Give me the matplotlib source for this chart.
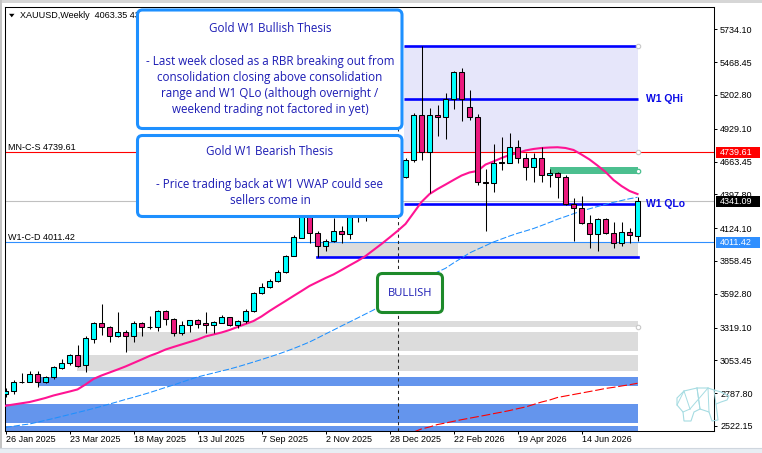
import numpy as np
import matplotlib
matplotlib.use("Agg")
from matplotlib import pyplot as plt
from matplotlib.patches import Rectangle, FancyBboxPatch, Polygon
from matplotlib.lines import Line2D
from matplotlib.transforms import Affine2D, blended_transform_factory

W, H = 762, 453

# weekly XAUUSD candles
opens = [2779, 2805, 2876, 2881, 2941, 2876, 2919, 2994, 3030, 3094,
         3013, 3229, 3356, 3321, 3248, 3283, 3248, 3356, 3321, 3321,
         3453, 3386, 3273, 3340, 3378, 3356, 3337, 3359, 3402, 3337,
         3370, 3456, 3596, 3645, 3694, 3771, 3901, 4047, 4271, 4082,
         3982, 4018, 4101, 4079, 4217, 4250, 4285, 4320, 4360, 4400,
         4541, 4676, 5040, 4743, 5040, 5022, 5167, 5388, 5103, 5022,
         4500, 4487, 4649, 4654, 4779, 4690, 4617, 4690, 4552, 4568,
         4536, 4320, 4285, 4163, 4074, 4196, 4082, 4001, 4090, 4063.35]
highs = [2830, 2894, 2949, 2967, 2967, 2927, 3008, 3065, 3105, 3178,
         3251, 3364, 3510, 3334, 3448, 3299, 3372, 3364, 3413, 3461,
         3461, 3394, 3372, 3378, 3386, 3448, 3372, 3421, 3405, 3378,
         3467, 3607, 3677, 3710, 3785, 3907, 4069, 4311, 4311, 4101,
         4036, 4206, 4141, 4230, 4260, 4290, 4330, 4380, 4420, 4560,
         4692, 5054, 5599, 5094, 5121, 5216, 5396, 5418, 5243, 5048,
         4601, 4805, 4864, 4892, 4838, 4730, 4730, 4779, 4601, 4581,
         4554, 4366, 4387, 4231, 4204, 4204, 4174, 4171, 4123, 4373.80]
lows = [2757, 2779, 2874, 2878, 2840, 2868, 2900, 2986, 3016, 3002,
        2962, 3197, 3261, 3205, 3246, 3124, 3205, 3248, 3305, 3294,
        3342, 3253, 3261, 3286, 3313, 3273, 3273, 3354, 3334, 3313,
        3358, 3443, 3591, 3637, 3688, 3763, 3899, 4044, 4006, 3893,
        3939, 4012, 4001, 4036, 4174, 4182, 4260, 4300, 4340, 4380,
        4530, 4657, 4676, 4406, 4873, 4843, 5089, 4994, 5000, 4473,
        4103, 4419, 4595, 4649, 4654, 4514, 4500, 4500, 4455, 4366,
        4311, 4022, 4158, 3961, 3941, 4077, 3961, 3979, 4001, 4022.40]
closes = [2805, 2876, 2882, 2941, 2876, 2919, 2997, 3030, 3094, 3010,
          3232, 3356, 3321, 3248, 3283, 3248, 3356, 3321, 3324, 3453,
          3386, 3273, 3340, 3378, 3346, 3337, 3362, 3402, 3337, 3370,
          3456, 3596, 3645, 3694, 3771, 3901, 4052, 4271, 4082, 3982,
          4018, 4101, 4079, 4217, 4250, 4285, 4320, 4360, 4400, 4541,
          4676, 5040, 4743, 5040, 5022, 5167, 5388, 5167, 5022, 4500,
          4487, 4649, 4656, 4779, 4690, 4617, 4690, 4554, 4568, 4536,
          4320, 4285, 4163, 4074, 4196, 4082, 4001, 4090, 4066, 4341.09]

# moving average (pink) and the two VWAP lines
ma_slow = [2686, 2696, 2706, 2716, 2732, 2749, 2769, 2785, 2801, 2818,
           2858, 2903, 2931, 2955, 2979, 3004, 3032, 3060, 3089, 3113,
           3141, 3162, 3182, 3202, 3222, 3247, 3263, 3279, 3299, 3324,
           3348, 3372, 3409, 3453, 3494, 3534, 3575, 3615, 3656, 3688,
           3720, 3749, 3785, 3822, 3858, 3898, 3947, 3996, 4048, 4101,
           4158, 4247, 4336, 4400, 4441, 4477, 4514, 4550, 4575, 4587,
           4639, 4664, 4692, 4716, 4732, 4753, 4765, 4773, 4777, 4779,
           4773, 4757, 4720, 4680, 4631, 4579, 4514, 4465, 4425, 4400]
vwap_w1 = [2511, 2520, 2530, 2538, 2553, 2568, 2583, 2599, 2615, 2631,
           2647, 2664, 2681, 2700, 2718, 2737, 2754, 2773, 2792, 2813,
           2834, 2854, 2876, 2898, 2919, 2935, 2951, 2967, 2983, 3001,
           3020, 3040, 3060, 3081, 3102, 3125, 3149, 3175, 3202, 3234,
           3267, 3299, 3332, 3364, 3396, 3429, 3461, 3502, 3542, 3583,
           3623, 3664, 3702, 3734, 3769, 3799, 3842, 3882, 3923, 3953,
           3982, 4012, 4036, 4060, 4082, 4101, 4121, 4145, 4170, 4196,
           4218, 4241, 4263, 4281, 4299, 4317, 4333, 4348, 4362, 4374]
vwap_mn_start = 51
vwap_mn = [2473, 2498, 2514, 2534, 2546, 2560, 2573, 2585, 2597, 2609,
           2622, 2634, 2647, 2662, 2676, 2696, 2716, 2732, 2753, 2765,
           2777, 2789, 2801, 2813, 2826, 2835, 2846, 2856, 2868]

date_labels = ["26 Jan 2025", "23 Mar 2025", "18 May 2025", "13 Jul 2025",
               "7 Sep 2025", "2 Nov 2025", "28 Dec 2025", "22 Feb 2026",
               "19 Apr 2026", "14 Jun 2026"]
label_every = 8
price_ticks = [5734.10, 5468.45, 5202.80, 4929.10, 4663.45, 4397.80, 4124.10,
               3858.45, 3592.80, 3319.10, 3053.45, 2787.80, 2522.15]

# levels and zones: (start bar, low, high)
level_mn = 4739.61
level_bid = 4341.09
level_w1 = 4011.42
q_top, q_hi, q_lo, q_bottom = 5598.8, 5167.3, 4319.5, 3892.8
q_start, range_start = 49.8, 38.9
vline_bar = 49
gray_zones = [(29.4, 3325.8, 3372.0), (15.15, 3131.7, 3285.5),
              (8.9, 2970.0, 3097.0), (range_start, q_bottom, level_w1)]
blue_zones = [(4.15, 2848.0, 2921.0), (-2, 2548.7, 2700.0), (-2, 2400.0, 2522.0)]
green_zone = (68, 4560.0, 4616.7)

BULL = "#00ffff"
BEAR = "#ec1a7e"
PINK = "#ff1493"
TXT = "#1c1cb4"

plt.rcParams["font.family"] = ["Liberation Sans", "DejaVu Sans"]

fig = plt.figure(figsize=(W / 100, H / 100), dpi=100)
fig.patch.set_facecolor("white")
ax = fig.add_axes([4.7 / W, 1 - 430.5 / H, (714 - 4.7) / W, (430.5 - 7.3) / H])
pix = Affine2D().scale(1 / W, -1 / H).translate(0, 1) + fig.transFigure
ax_w_px = 714 - 4.7
ax_h_px = 430.5 - 7.3

n = len(closes)
x = np.arange(n)
last = n - 1
o, h, l, c = map(np.array, (opens, highs, lows, closes))

# zones behind everything
for start, lo, hi in gray_zones:
    ax.add_patch(Rectangle((start, lo), last - start, hi - lo, fc="#dcdcdc", ec="none", zorder=1))
for start, lo, hi in blue_zones:
    ax.add_patch(Rectangle((start, lo), last - start, hi - lo, fc="#6495ed", ec="none", zorder=1))
ax.add_patch(Rectangle((q_start, level_mn), last - q_start, q_top - level_mn,
                       fc="#e6e6fa", ec="none", zorder=1))
ax.add_patch(Rectangle((green_zone[0], green_zone[1]), last - green_zone[0],
                       green_zone[2] - green_zone[1], fc="#4cbf8f", ec="none", zorder=1.5))

ax.axhline(level_mn, color="red", lw=0.8, zorder=2)
ax.axhline(level_bid, color="#c0c0c0", lw=0.8, zorder=2)
ax.axhline(level_w1, color="#2f8fff", lw=0.8, zorder=2)
for lvl in (q_top, q_hi, q_lo):
    ax.plot([q_start, last], [lvl, lvl], color="#0000ff", lw=1.9, zorder=2.2, solid_capstyle="butt")
ax.plot([range_start, last], [q_bottom, q_bottom], color="#0000ff", lw=1.9, zorder=2.2)
ax.axvline(vline_bar, color="#222222", lw=0.75, ls=(0, (3, 3)), zorder=2)

# anchor dots of selected objects
for lvl in (q_top, level_mn, gray_zones[0][1]):
    ax.plot(last, lvl, "o", ms=3.2, mfc="white", mec="#c8c8c8", mew=0.8, zorder=6)
ax.plot(last, (green_zone[1] + green_zone[2]) / 2, "o", ms=3.2, mfc="white", mec="#4cbf8f", mew=0.9, zorder=6)

# indicators
ax.plot(x, vwap_w1, color="#1e90ff", lw=0.75, ls=(0, (6, 2)), zorder=2.5)
ax.plot(np.arange(vwap_mn_start, vwap_mn_start + len(vwap_mn)), vwap_mn,
        color="#ff0000", lw=0.8, ls=(0, (8, 2.5)), zorder=2.5)
ax.plot(x, ma_slow, color=PINK, lw=1.5, zorder=3)

# candles
ax.vlines(x, l, h, color="black", lw=0.75, zorder=4)
cols = np.where(c >= o, BULL, BEAR)
ax.bar(x, c - o, bottom=o, width=0.6, color=cols, edgecolor="black", linewidth=0.75, zorder=4.5)

ax.set_xlim(-0.1, 88.56)
ax.set_ylim(2485.5, 5912.2)
for s in ax.spines.values():
    s.set_linewidth(0.75)
ax.yaxis.tick_right()
ax.set_yticks(price_ticks)
ax.set_yticklabels([f"{v:.2f}" for v in price_ticks])
ax.tick_params(axis="y", direction="out", length=2.2, width=0.72, pad=2.2, labelsize=6.5)
ax.set_xticks(np.arange(0, n, label_every)[:len(date_labels)])
ax.set_xticklabels(date_labels)
for lab in ax.get_xticklabels():
    lab.set_ha("left")
ax.tick_params(axis="x", direction="out", length=2.5, width=0.72, pad=0.6, labelsize=6.5)

# price tags on the right axis and level captions on the left
bt = blended_transform_factory(ax.transAxes, ax.transData)
units_per_px = (5912.2 - 2485.5) / ax_h_px
for lvl, bg in ((level_mn, "#ff0000"), (level_bid, "#000000"), (level_w1, "#2f8fff")):
    ax.add_patch(Rectangle((1 + 2 / ax_w_px, lvl - 5.5 * units_per_px), 44 / ax_w_px,
                           11 * units_per_px, transform=bt, fc=bg, ec="none",
                           clip_on=False, zorder=7))
    ax.text(1 + 6 / ax_w_px, lvl, f"{lvl:.2f}", transform=bt, ha="left", va="center",
            fontsize=6.5, color="white", clip_on=False, zorder=8)
ax.text(3 / ax_w_px, level_mn, f"MN-C-S {level_mn:.2f}", transform=bt, ha="left",
        va="bottom", fontsize=6.5, color="black", zorder=3)
ax.text(3 / ax_w_px, level_w1, f"W1-C-D {level_w1:.2f}", transform=bt, ha="left",
        va="bottom", fontsize=6.5, color="black", zorder=3)
for lvl, name in ((q_hi, "W1 QHi"), (q_lo, "W1 QLo")):
    ax.text(last + 1.0, lvl, name, ha="left", va="center", fontsize=7.5,
            fontweight="bold", color="#0a0ae6", zorder=6)

ax.text(15.5 / ax_w_px, 1 - 8.3 / ax_h_px, f"XAUUSD,Weekly  {opens[-1]:.2f} {highs[-1]:.2f} "
        f"{lows[-1]:.2f} {closes[-1]:.2f}", transform=ax.transAxes, ha="left",
        va="center", fontsize=6.5, color="black", zorder=3)
fig.add_artist(Polygon([(9, 13.8), (14.5, 13.8), (11.75, 17.3)], closed=True,
                       transform=pix, fc="black", ec="none"))

# thesis boxes
def note_box(x0, y0, x1, y1, edge):
    fig.add_artist(FancyBboxPatch((x0, y0), x1 - x0, y1 - y0,
                                  boxstyle="round,pad=0,rounding_size=5",
                                  transform=pix, fc="white", ec=edge, lw=2.2, zorder=5))

note_box(137.5, 10, 402, 128.5, "#1e90ff")
note_box(137.5, 135.5, 402, 216.5, "#1e90ff")
note_box(377.5, 273.5, 442.5, 312.5, "#1d8a2a")

bull_lines = [("Gold W1 Bullish Thesis", 28.3), ("- Last week closed as a RBR breaking out from", 61.7),
              ("consolidation closing above consolidation", 77.3),
              ("range and W1 QLo (although overnight /", 93.3),
              ("weekend trading not factored in yet)", 109.3)]
bear_lines = [("Gold W1 Bearish Thesis", 151.7), ("- Price trading back at W1 VWAP could see", 184.3),
              ("sellers come in", 200.3)]
for s, yy in bull_lines + bear_lines:
    fig.text(270, yy, s, transform=pix, ha="center", va="center", fontsize=8.4,
             family=["Open Sans", "DejaVu Sans"], color=TXT, zorder=6)
fig.text(410, 293, "BULLISH", transform=pix, ha="center", va="center", fontsize=8.0,
         family=["Open Sans", "DejaVu Sans"], color=TXT, zorder=6)

# watermark bear
bear = [(677, 398), (684, 391), (697, 388), (708, 388), (714, 390), (721, 392), (729, 396),
        (727, 400), (721, 402), (716, 404), (717, 412), (718, 420), (712, 421), (709, 412),
        (700, 409), (694, 412), (691, 421), (684, 421), (683, 412), (677, 405)]
fig.add_artist(Polygon(bear, closed=True, transform=pix, fc="none", ec="#a6dce2", lw=0.8, zorder=6))
for a, b in (((684, 391), (690, 409)), ((697, 388), (700, 409)), ((708, 388), (709, 412)),
             ((690, 409), (708, 388)), ((677, 405), (684, 391)), ((714, 390), (716, 404)),
             ((683, 412), (690, 409)), ((700, 409), (697, 388))):
    fig.add_artist(Line2D([a[0], b[0]], [a[1], b[1]], transform=pix, color="#a6dce2", lw=0.7, zorder=6))

# window chrome
fig.add_artist(Rectangle((0, 0), W, 2.5, transform=pix, fc="#d6d6d6", ec="none", zorder=7))
fig.add_artist(Rectangle((0, 0), 2, H, transform=pix, fc="#c4c4c4", ec="none", zorder=7))
fig.add_artist(Rectangle((0, 448), W, 5, transform=pix, fc="#e8eef4", ec="none", zorder=7))
fig.add_artist(Line2D([0, W], [448, 448], transform=pix, color="#cfd6de", lw=0.8, zorder=7))

fig.savefig("out.png", dpi=100)
